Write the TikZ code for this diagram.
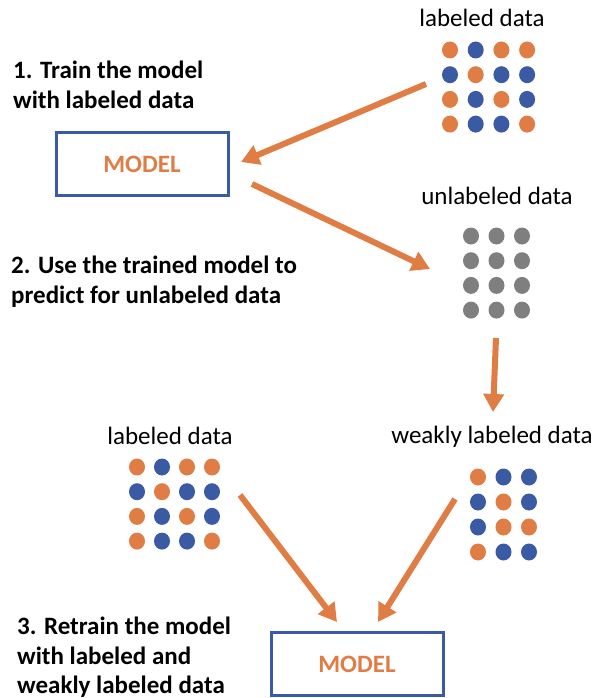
\documentclass[tikz,border=0pt]{standalone}
\usepackage{fontspec}
\setmainfont{Carlito}
\usetikzlibrary{arrows.meta,shapes.geometric}

\definecolor{dotO}{HTML}{E07D45}
\definecolor{dotB}{HTML}{3A5BA3}
\definecolor{dotG}{HTML}{7F7F7F}

\tikzstyle{tS}=[font=\fontsize{25}{30}\selectfont, inner sep=0pt]
\tikzstyle{sS}=[font=\bfseries\fontsize{25}{29.5}\selectfont, inner sep=0pt, align=left, anchor=north west]
\tikzstyle{mS}=[draw=dotB, line width=3pt, minimum width=172pt, minimum height=63pt, inner sep=0pt, text=dotO, font=\bfseries\fontsize{25}{30}\selectfont]
\tikzstyle{dS}=[ellipse, minimum width=16pt, minimum height=17pt, inner sep=0pt]
\tikzstyle{aS}=[draw=dotO, line width=6pt, -{Triangle[length=18pt,width=20pt]}]

\begin{document}
\begin{tikzpicture}[x=1pt, y=-1pt]
    \useasboundingbox (0,0) rectangle (594,698);

    % texts
    \draw (482,18) node[tS] (labTop) {labeled data};
    \draw (497,196) node[tS] (unlab) {unlabeled data};
    \draw (492,437) node[tS] (weak) {weakly labeled data};
    \draw (170,436) node[tS] (labLow) {labeled data};
    \draw (13,61) node[sS] (step1) {1. Train the model\\with labeled data};
    \draw (11,256) node[sS] (step2) {2. Use the trained model to\\predict for unlabeled data};
    \draw (17,617) node[sS] (step3) {3. Retrain the model\\with labeled and\\weakly labeled data};

    % models
    \draw (142,164) node[mS] (model1) {MODEL};
    \draw (357,664) node[mS] (model2) {MODEL};

    % data points
    \foreach \row [count=\r] in {{O,B,O,O},{B,O,B,B},{O,B,O,B},{O,B,B,O}}
        \foreach \c [count=\k] in \row {
            \node[dS, fill=dot\c] (lt-\r-\k) at ({450+(\k-1)*25.7},{50+(\r-1)*24.7}) {};
            \node[dS, fill=dot\c] (ll-\r-\k) at ({137+(\k-1)*25},{467+(\r-1)*24.7}) {};
        }
    \foreach \r in {1,...,4}
        \foreach \k in {1,2,3}
            \node[dS, fill=dotG] (ul-\r-\k) at ({471+(\k-1)*25.5},{236+(\r-1)*24.7}) {};
    \foreach \row [count=\r] in {{O,B,B},{B,O,B},{B,O,O},{O,B,B}}
        \foreach \c [count=\k] in \row
            \node[dS, fill=dot\c] (wl-\r-\k) at ({478+(\k-1)*25.5},{477+(\r-1)*25}) {};

    % arrows
    \coordinate (a1s) at (426,84);   \coordinate (a1e) at (241,162);
    \coordinate (a2s) at (252,184);  \coordinate (a2e) at (430,269);
    \coordinate (a3s) at (496,338);  \coordinate (a3e) at (493,412);
    \coordinate (a4s) at (240,495);  \coordinate (a4e) at (337,622);
    \coordinate (a5s) at (455,499);  \coordinate (a5e) at (378,622);
    \draw[aS] (a1s) -- (a1e);
    \draw[aS] (a2s) -- (a2e);
    \draw[aS] (a3s) -- (a3e);
    \draw[aS] (a4s) -- (a4e);
    \draw[aS] (a5s) -- (a5e);
\end{tikzpicture}
\end{document}
